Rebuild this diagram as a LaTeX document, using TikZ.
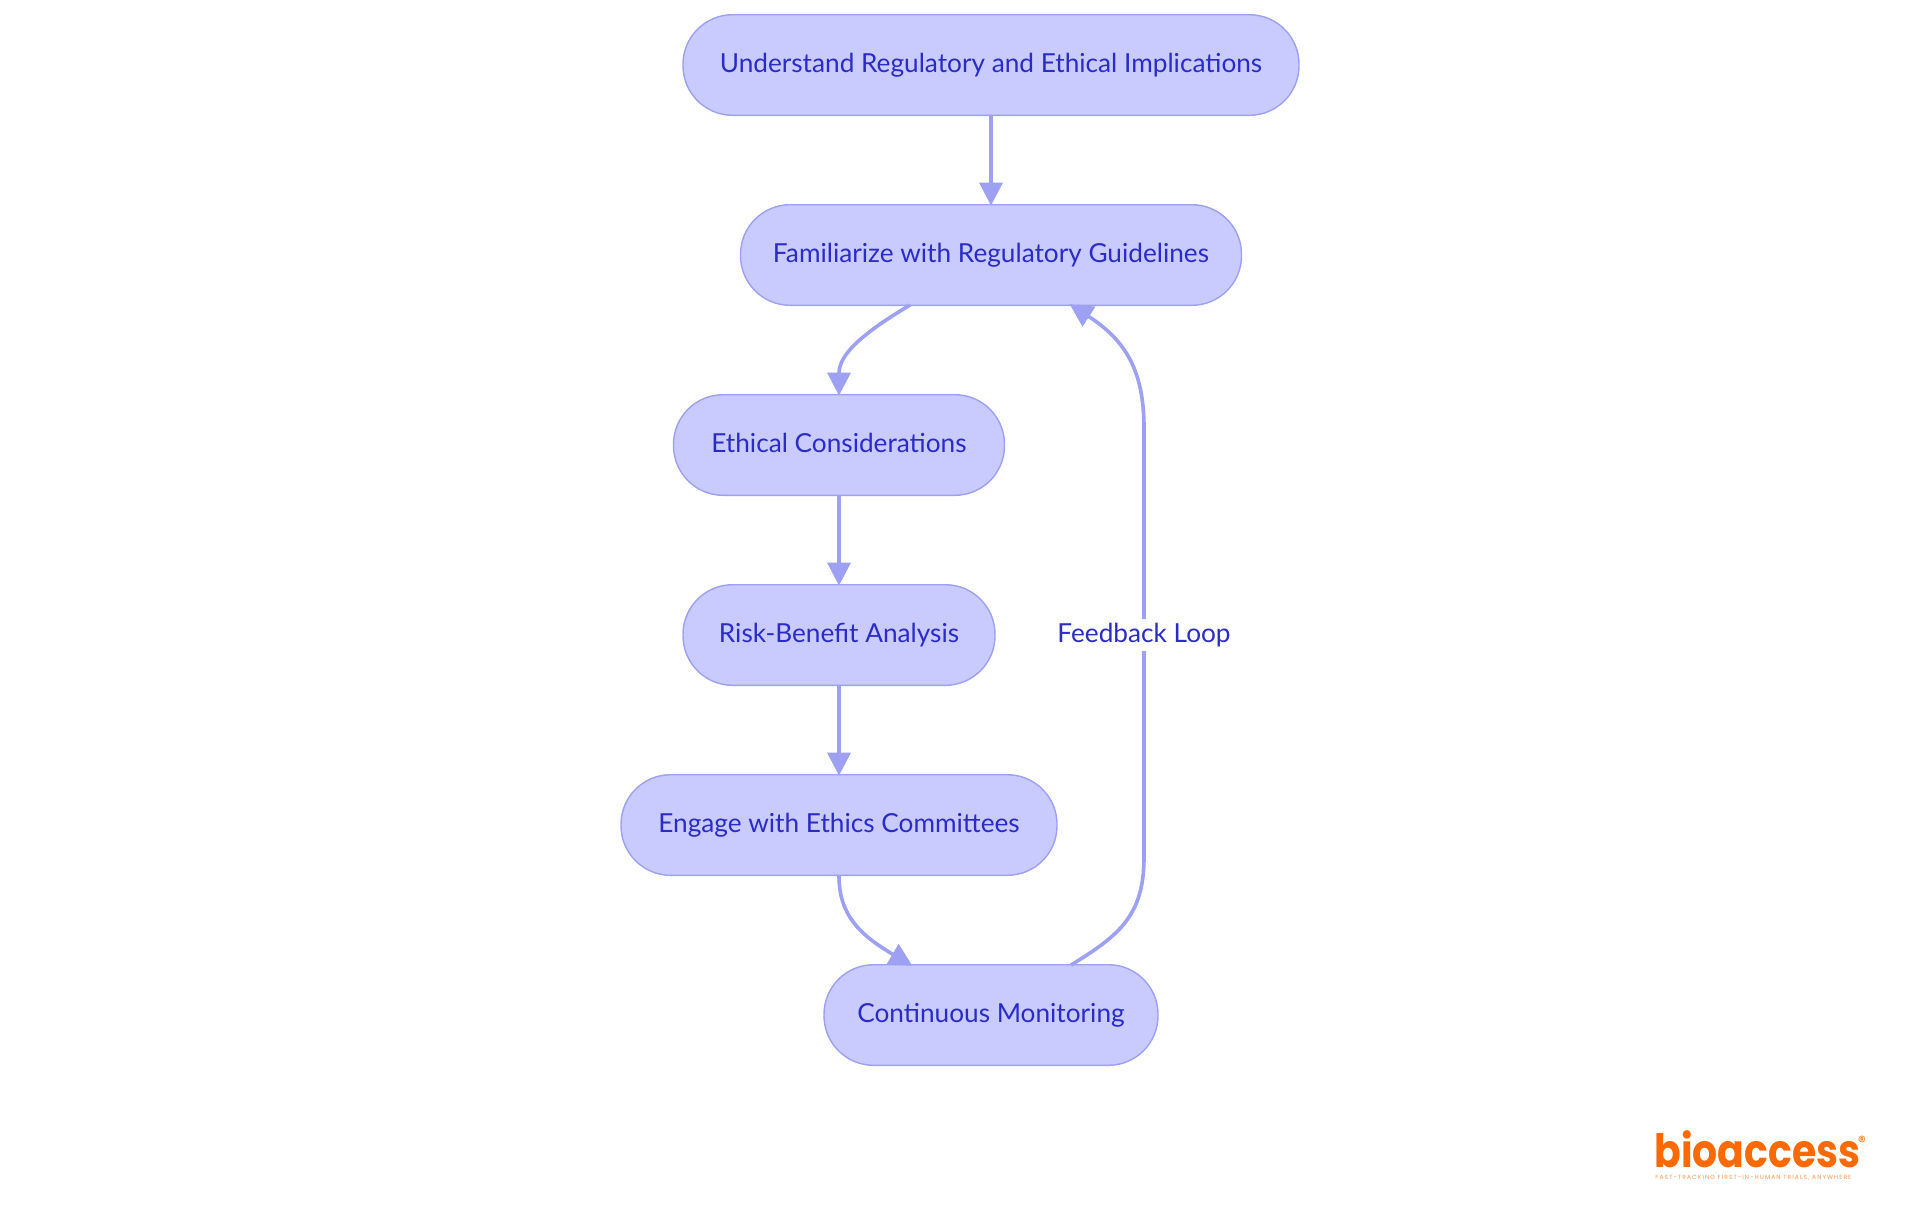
\documentclass[tikz,border=0pt]{standalone}
\usepackage{graphicx}
\usepackage{fontspec}
\setmainfont{Lato}
\newfontfamily\logofont{Poppins}
\newfontfamily\tagfont[LetterSpace=18]{Poppins}
\usetikzlibrary{arrows.meta,calc}
\definecolor{nodefill}{HTML}{C9CAFD}
\definecolor{edgecol}{HTML}{9DA0F3}
\definecolor{textcol}{HTML}{2A2BC8}
\definecolor{logocol}{HTML}{FF6A00}
\tikzset{
  stepbox/.style={draw=edgecol,fill=nodefill,line width=0.7pt,rounded corners=24.8pt,
    minimum height=50.3pt,inner sep=0pt,text=textcol,text height=10pt,text depth=3pt,
    font=\fontsize{13.1pt}{16pt}\selectfont},
  flow/.style={draw=edgecol,line width=1.8pt,shorten >=-0.8pt,-{Triangle[length=11.5pt,width=11.5pt]}},
  edgelabel/.style={fill=white,text=textcol,inner sep=1.5pt,text height=10pt,text depth=3pt,
    font=\fontsize{13.1pt}{16pt}\selectfont}
}
\begin{document}
\begin{tikzpicture}[x=0.5pt,y=-0.5pt]
\useasboundingbox (0,0) rectangle (1920,1215);
\node[stepbox,minimum width=308pt] (n1) at (991,65) {Understand Regulatory and Ethical Implications};
\node[stepbox,minimum width=250.5pt] (n2) at (991,255) {Familiarize with Regulatory Guidelines};
\node[stepbox,minimum width=165.5pt] (n3) at (839,445) {Ethical Considerations};
\node[stepbox,minimum width=156pt] (n4) at (839,635) {Risk-Benefit Analysis};
\node[stepbox,minimum width=218pt] (n5) at (839,825) {Engage with Ethics Committees};
\node[stepbox,minimum width=167pt] (n6) at (991,1015) {Continuous Monitoring};
\draw[flow] (n1.south) -- (n2.north);
\coordinate (a) at (910,305);
\draw[flow] (a) .. controls (860,335) and (839,355) .. (n3.north);
\draw[flow] (n3.south) -- (n4.north);
\draw[flow] (n4.south) -- (n5.north);
\coordinate (b) at (911,965);
\draw[flow] (n5.south) .. controls (839,915) and (860,935) .. (b);
\coordinate (c) at (1071,965);
\coordinate (d) at (1144,857);
\coordinate (e) at (1144,428);
\coordinate (f) at (1071,305);
\draw[flow] (c) .. controls (1120,935) and (1144,915) .. (d) -- (e) .. controls (1144,370) and (1125,340) .. (f);
\node[edgelabel] (fb) at (1144,635) {Feedback Loop};
\node[anchor=base west,inner sep=0pt,text=logocol,font=\logofont\bfseries\fontsize{23pt}{23pt}\selectfont] (logo) at (1654,1167) {\scalebox{0.855}[1]{bioaccess}};
\node[anchor=center,inner sep=0pt,text=logocol,font=\logofont\fontsize{8pt}{8pt}\selectfont] (reg) at (1862,1142) {®};
\node[anchor=base west,inner sep=0pt,text=logocol!70,font=\tagfont\fontsize{3pt}{3pt}\selectfont] (tag) at (1655,1179) {FAST-TRACKING FIRST-IN-HUMAN TRIALS, ANYWHERE};
\end{tikzpicture}
\end{document}
